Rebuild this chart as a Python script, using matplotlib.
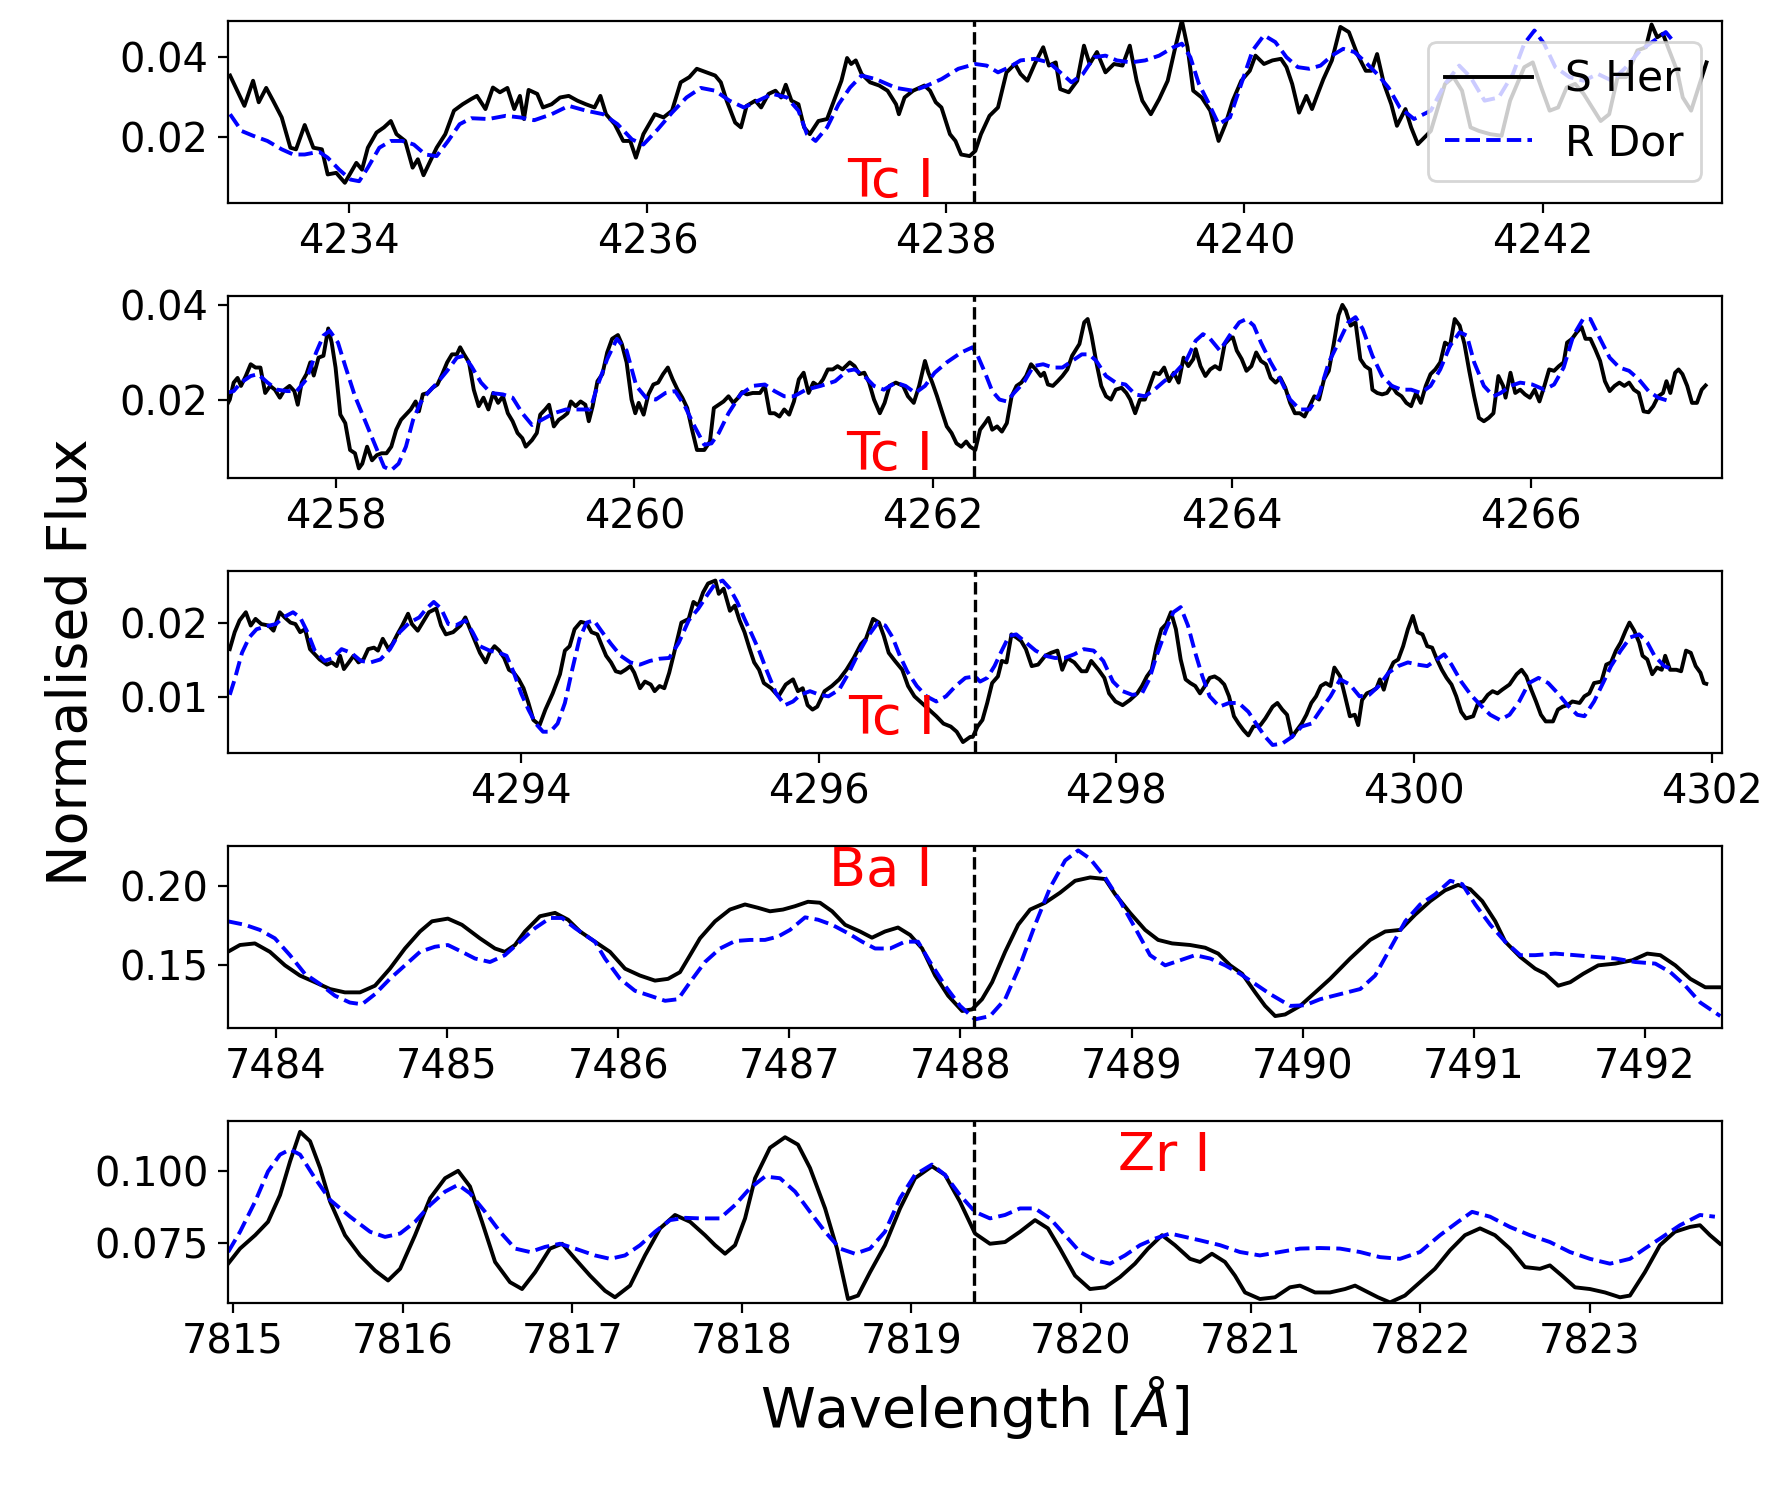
import matplotlib
matplotlib.use('Agg')
import matplotlib.pyplot as plt
import numpy as np

# line centres [A] and their labels
line_centres = [4238.19, 4262.27, 4297.05, 7488.08, 7819.37]
line_labels = ['Tc I', 'Tc I', 'Tc I', 'Ba I', 'Zr I']

# (wavelength, normalised flux)
sher_1 = np.array([
    (4233.204, 0.0354), (4233.300, 0.0278), (4233.358, 0.0341), (4233.396, 0.0287), (4233.446, 0.0323),
    (4233.492, 0.0291), (4233.550, 0.0249), (4233.608, 0.0173), (4233.646, 0.0169), (4233.704, 0.0230),
    (4233.762, 0.0173), (4233.819, 0.0169), (4233.858, 0.0106), (4233.915, 0.0110), (4233.973, 0.0085),
    (4234.050, 0.0135), (4234.088, 0.0118), (4234.127, 0.0173), (4234.185, 0.0211), (4234.235, 0.0224),
    (4234.281, 0.0240), (4234.319, 0.0207), (4234.377, 0.0190), (4234.427, 0.0123), (4234.462, 0.0144),
    (4234.500, 0.0104), (4234.588, 0.0173), (4234.646, 0.0207), (4234.704, 0.0266), (4234.762, 0.0282),
    (4234.819, 0.0295), (4234.858, 0.0303), (4234.915, 0.0270), (4234.965, 0.0324), (4235.012, 0.0312),
    (4235.062, 0.0323), (4235.108, 0.0270), (4235.146, 0.0303), (4235.173, 0.0245), (4235.204, 0.0318),
    (4235.262, 0.0308), (4235.300, 0.0274), (4235.358, 0.0282), (4235.415, 0.0299), (4235.473, 0.0303),
    (4235.531, 0.0291), (4235.588, 0.0282), (4235.646, 0.0274), (4235.685, 0.0303), (4235.723, 0.0257),
    (4235.781, 0.0232), (4235.838, 0.0190), (4235.885, 0.0190), (4235.923, 0.0148), (4235.973, 0.0207),
    (4236.050, 0.0257), (4236.108, 0.0249), (4236.165, 0.0266), (4236.223, 0.0337), (4236.281, 0.0350),
    (4236.331, 0.0371), (4236.396, 0.0362), (4236.454, 0.0354), (4236.492, 0.0337), (4236.531, 0.0291),
    (4236.588, 0.0236), (4236.627, 0.0224), (4236.665, 0.0278), (4236.723, 0.0291), (4236.762, 0.0274),
    (4236.812, 0.0308), (4236.858, 0.0316), (4236.896, 0.0299), (4236.927, 0.0331), (4236.965, 0.0291),
    (4237.012, 0.0282), (4237.050, 0.0224), (4237.088, 0.0207), (4237.146, 0.0240), (4237.204, 0.0245),
    (4237.262, 0.0303), (4237.300, 0.0341), (4237.338, 0.0398), (4237.365, 0.0383), (4237.396, 0.0392),
    (4237.435, 0.0358), (4237.492, 0.0337), (4237.553, 0.0329), (4237.609, 0.0316), (4237.666, 0.0282),
    (4237.685, 0.0257), (4237.723, 0.0299), (4237.780, 0.0316), (4237.856, 0.0329), (4237.894, 0.0316),
    (4237.932, 0.0287), (4237.970, 0.0274), (4238.027, 0.0207), (4238.064, 0.0190), (4238.102, 0.0156),
    (4238.159, 0.0152), (4238.197, 0.0165), (4238.235, 0.0207), (4238.292, 0.0253), (4238.349, 0.0274),
    (4238.406, 0.0362), (4238.463, 0.0383), (4238.500, 0.0358), (4238.546, 0.0341), (4238.595, 0.0383),
    (4238.652, 0.0425), (4238.690, 0.0379), (4238.736, 0.0387), (4238.766, 0.0320), (4238.823, 0.0312),
    (4238.880, 0.0341), (4238.925, 0.0429), (4238.963, 0.0383), (4239.012, 0.0413), (4239.069, 0.0362),
    (4239.126, 0.0383), (4239.183, 0.0379), (4239.232, 0.0429), (4239.278, 0.0341), (4239.316, 0.0291),
    (4239.373, 0.0257), (4239.429, 0.0295), (4239.486, 0.0341), (4239.532, 0.0417), (4239.581, 0.0492),
    (4239.619, 0.0425), (4239.657, 0.0316), (4239.714, 0.0299), (4239.771, 0.0266), (4239.827, 0.0190),
    (4239.873, 0.0232), (4239.922, 0.0291), (4239.979, 0.0341), (4240.036, 0.0366), (4240.074, 0.0404),
    (4240.131, 0.0383), (4240.188, 0.0392), (4240.245, 0.0396), (4240.282, 0.0375), (4240.320, 0.0333),
    (4240.366, 0.0261), (4240.415, 0.0303), (4240.453, 0.0270), (4240.491, 0.0308), (4240.529, 0.0345),
    (4240.586, 0.0392), (4240.643, 0.0476), (4240.700, 0.0463), (4240.756, 0.0408), (4240.813, 0.0366),
    (4240.851, 0.0366), (4240.889, 0.0408), (4240.935, 0.0333), (4240.984, 0.0282), (4241.022, 0.0228),
    (4241.079, 0.0270), (4241.117, 0.0224), (4241.162, 0.0182), (4241.249, 0.0215), (4241.344, 0.0333),
    (4241.401, 0.0350), (4241.458, 0.0316), (4241.515, 0.0224), (4241.572, 0.0215), (4241.647, 0.0207),
    (4241.723, 0.0203), (4241.780, 0.0291), (4241.875, 0.0375), (4241.932, 0.0387), (4241.989, 0.0324),
    (4242.045, 0.0266), (4242.102, 0.0274), (4242.159, 0.0324), (4242.216, 0.0333), (4242.273, 0.0308),
    (4242.330, 0.0274), (4242.387, 0.0240), (4242.444, 0.0257), (4242.500, 0.0350), (4242.557, 0.0350),
    (4242.633, 0.0417), (4242.690, 0.0425), (4242.728, 0.0482), (4242.766, 0.0450), (4242.804, 0.0459),
    (4242.842, 0.0421), (4242.899, 0.0366), (4242.937, 0.0299), (4242.993, 0.0266), (4243.050, 0.0333),
    (4243.096, 0.0387)])

rdor_1 = np.array([
    (4233.204, 0.0257), (4233.281, 0.0215), (4233.358, 0.0203), (4233.454, 0.0190), (4233.550, 0.0169),
    (4233.627, 0.0156), (4233.704, 0.0156), (4233.800, 0.0163), (4233.858, 0.0148), (4233.935, 0.0118),
    (4234.012, 0.0093), (4234.069, 0.0089), (4234.127, 0.0123), (4234.204, 0.0173), (4234.281, 0.0190),
    (4234.358, 0.0190), (4234.435, 0.0181), (4234.512, 0.0156), (4234.588, 0.0152), (4234.665, 0.0190),
    (4234.742, 0.0232), (4234.819, 0.0247), (4234.935, 0.0245), (4235.050, 0.0253), (4235.146, 0.0249),
    (4235.242, 0.0242), (4235.358, 0.0257), (4235.473, 0.0278), (4235.588, 0.0266), (4235.704, 0.0257),
    (4235.800, 0.0232), (4235.896, 0.0194), (4235.973, 0.0181), (4236.069, 0.0219), (4236.165, 0.0261),
    (4236.262, 0.0299), (4236.358, 0.0323), (4236.454, 0.0316), (4236.550, 0.0291), (4236.646, 0.0274),
    (4236.742, 0.0291), (4236.838, 0.0308), (4236.935, 0.0299), (4237.012, 0.0266), (4237.069, 0.0207),
    (4237.127, 0.0190), (4237.204, 0.0224), (4237.281, 0.0282), (4237.358, 0.0324), (4237.435, 0.0354),
    (4237.531, 0.0345), (4237.666, 0.0323), (4237.780, 0.0316), (4237.856, 0.0326), (4237.970, 0.0345),
    (4238.083, 0.0371), (4238.197, 0.0383), (4238.273, 0.0379), (4238.349, 0.0362), (4238.425, 0.0375),
    (4238.500, 0.0392), (4238.595, 0.0396), (4238.690, 0.0387), (4238.766, 0.0362), (4238.842, 0.0337),
    (4238.918, 0.0358), (4238.993, 0.0400), (4239.069, 0.0404), (4239.145, 0.0392), (4239.240, 0.0387),
    (4239.335, 0.0392), (4239.429, 0.0404), (4239.524, 0.0425), (4239.581, 0.0434), (4239.638, 0.0400),
    (4239.695, 0.0333), (4239.752, 0.0291), (4239.827, 0.0232), (4239.903, 0.0249), (4239.979, 0.0333),
    (4240.055, 0.0417), (4240.131, 0.0455), (4240.207, 0.0438), (4240.282, 0.0400), (4240.358, 0.0375),
    (4240.434, 0.0371), (4240.510, 0.0379), (4240.586, 0.0404), (4240.662, 0.0421), (4240.737, 0.0413),
    (4240.813, 0.0387), (4240.889, 0.0358), (4240.965, 0.0324), (4241.041, 0.0274), (4241.136, 0.0245),
    (4241.249, 0.0266), (4241.344, 0.0333), (4241.439, 0.0379), (4241.515, 0.0350), (4241.609, 0.0291),
    (4241.704, 0.0299), (4241.799, 0.0358), (4241.875, 0.0434), (4241.943, 0.0467), (4242.008, 0.0434),
    (4242.083, 0.0375), (4242.178, 0.0350), (4242.273, 0.0341), (4242.368, 0.0358), (4242.463, 0.0341),
    (4242.557, 0.0375), (4242.652, 0.0417), (4242.747, 0.0442), (4242.823, 0.0463), (4242.887, 0.0434)])

sher_2 = np.array([
    (4257.269, 0.0186), (4257.292, 0.0200), (4257.318, 0.0236), (4257.344, 0.0246), (4257.367, 0.0229),
    (4257.399, 0.0250), (4257.432, 0.0275), (4257.464, 0.0268), (4257.497, 0.0268), (4257.529, 0.0214),
    (4257.562, 0.0229), (4257.594, 0.0221), (4257.627, 0.0204), (4257.659, 0.0221), (4257.692, 0.0229),
    (4257.724, 0.0218), (4257.747, 0.0189), (4257.773, 0.0236), (4257.805, 0.0254), (4257.831, 0.0279),
    (4257.854, 0.0251), (4257.886, 0.0289), (4257.919, 0.0293), (4257.951, 0.0351), (4257.974, 0.0321),
    (4258.000, 0.0268), (4258.032, 0.0168), (4258.065, 0.0150), (4258.097, 0.0093), (4258.130, 0.0086),
    (4258.156, 0.0054), (4258.179, 0.0064), (4258.211, 0.0100), (4258.244, 0.0071), (4258.276, 0.0082),
    (4258.308, 0.0086), (4258.341, 0.0086), (4258.373, 0.0100), (4258.406, 0.0136), (4258.438, 0.0157),
    (4258.471, 0.0168), (4258.503, 0.0179), (4258.536, 0.0196), (4258.558, 0.0175), (4258.584, 0.0211),
    (4258.617, 0.0214), (4258.649, 0.0225), (4258.682, 0.0232), (4258.714, 0.0254), (4258.747, 0.0279),
    (4258.779, 0.0296), (4258.812, 0.0296), (4258.834, 0.0311), (4258.860, 0.0296), (4258.893, 0.0279),
    (4258.925, 0.0221), (4258.958, 0.0186), (4258.990, 0.0204), (4259.023, 0.0179), (4259.055, 0.0214),
    (4259.088, 0.0193), (4259.120, 0.0207), (4259.153, 0.0171), (4259.185, 0.0154), (4259.218, 0.0129),
    (4259.250, 0.0118), (4259.273, 0.0100), (4259.315, 0.0114), (4259.347, 0.0129), (4259.370, 0.0168),
    (4259.403, 0.0179), (4259.429, 0.0189), (4259.461, 0.0143), (4259.494, 0.0157), (4259.526, 0.0164),
    (4259.552, 0.0171), (4259.575, 0.0196), (4259.607, 0.0186), (4259.640, 0.0196), (4259.672, 0.0189),
    (4259.695, 0.0154), (4259.721, 0.0186), (4259.753, 0.0239), (4259.786, 0.0254), (4259.818, 0.0300),
    (4259.851, 0.0329), (4259.890, 0.0337), (4259.916, 0.0318), (4259.948, 0.0279), (4259.981, 0.0200),
    (4260.006, 0.0171), (4260.029, 0.0193), (4260.062, 0.0168), (4260.094, 0.0211), (4260.127, 0.0232),
    (4260.159, 0.0236), (4260.192, 0.0254), (4260.224, 0.0268), (4260.256, 0.0243), (4260.289, 0.0221),
    (4260.321, 0.0204), (4260.354, 0.0182), (4260.386, 0.0136), (4260.419, 0.0093), (4260.468, 0.0093),
    (4260.506, 0.0111), (4260.532, 0.0182), (4260.565, 0.0189), (4260.597, 0.0196), (4260.630, 0.0207),
    (4260.662, 0.0193), (4260.695, 0.0204), (4260.721, 0.0216), (4260.753, 0.0211), (4260.792, 0.0214),
    (4260.841, 0.0214), (4260.873, 0.0229), (4260.906, 0.0171), (4260.938, 0.0171), (4260.971, 0.0164),
    (4261.003, 0.0179), (4261.036, 0.0168), (4261.068, 0.0196), (4261.101, 0.0243), (4261.133, 0.0257),
    (4261.166, 0.0214), (4261.198, 0.0236), (4261.231, 0.0229), (4261.263, 0.0243), (4261.295, 0.0264),
    (4261.328, 0.0264), (4261.360, 0.0271), (4261.393, 0.0264), (4261.442, 0.0279), (4261.474, 0.0271),
    (4261.506, 0.0254), (4261.539, 0.0257), (4261.571, 0.0236), (4261.604, 0.0200), (4261.643, 0.0171),
    (4261.675, 0.0193), (4261.708, 0.0229), (4261.750, 0.0236), (4261.799, 0.0229), (4261.831, 0.0207),
    (4261.870, 0.0193), (4261.906, 0.0229), (4261.945, 0.0282), (4261.968, 0.0257), (4261.994, 0.0236),
    (4262.026, 0.0207), (4262.058, 0.0175), (4262.091, 0.0143), (4262.123, 0.0129), (4262.156, 0.0107),
    (4262.188, 0.0100), (4262.221, 0.0111), (4262.247, 0.0100), (4262.282, 0.0093), (4262.314, 0.0136),
    (4262.347, 0.0150), (4262.370, 0.0161), (4262.395, 0.0136), (4262.428, 0.0143), (4262.460, 0.0132),
    (4262.493, 0.0150), (4262.525, 0.0207), (4262.558, 0.0229), (4262.590, 0.0236), (4262.622, 0.0250),
    (4262.655, 0.0275), (4262.687, 0.0264), (4262.720, 0.0250), (4262.742, 0.0257), (4262.768, 0.0232),
    (4262.801, 0.0229), (4262.833, 0.0239), (4262.865, 0.0250), (4262.898, 0.0264), (4262.930, 0.0293),
    (4262.979, 0.0318), (4263.011, 0.0364), (4263.034, 0.0371), (4263.060, 0.0336), (4263.092, 0.0279),
    (4263.125, 0.0229), (4263.157, 0.0207), (4263.190, 0.0200), (4263.222, 0.0221), (4263.261, 0.0225),
    (4263.293, 0.0214), (4263.319, 0.0200), (4263.352, 0.0171), (4263.384, 0.0200), (4263.417, 0.0200),
    (4263.449, 0.0229), (4263.481, 0.0257), (4263.514, 0.0254), (4263.546, 0.0268), (4263.579, 0.0239),
    (4263.611, 0.0257), (4263.643, 0.0236), (4263.676, 0.0289), (4263.708, 0.0271), (4263.741, 0.0286),
    (4263.757, 0.0307), (4263.789, 0.0271), (4263.822, 0.0250), (4263.854, 0.0264), (4263.887, 0.0271),
    (4263.919, 0.0264), (4263.951, 0.0318), (4263.984, 0.0329), (4264.006, 0.0332), (4264.032, 0.0304),
    (4264.065, 0.0286), (4264.097, 0.0261), (4264.130, 0.0271), (4264.162, 0.0300), (4264.194, 0.0282),
    (4264.227, 0.0275), (4264.259, 0.0246), (4264.292, 0.0236), (4264.324, 0.0246), (4264.357, 0.0225),
    (4264.389, 0.0193), (4264.421, 0.0171), (4264.454, 0.0171), (4264.486, 0.0164), (4264.519, 0.0186),
    (4264.551, 0.0207), (4264.583, 0.0200), (4264.616, 0.0243), (4264.648, 0.0261), (4264.681, 0.0318),
    (4264.713, 0.0379), (4264.739, 0.0401), (4264.762, 0.0389), (4264.794, 0.0357), (4264.827, 0.0364),
    (4264.859, 0.0286), (4264.891, 0.0271), (4264.924, 0.0264), (4264.940, 0.0221), (4264.972, 0.0214),
    (4265.005, 0.0211), (4265.037, 0.0214), (4265.070, 0.0229), (4265.102, 0.0214), (4265.135, 0.0207),
    (4265.167, 0.0193), (4265.199, 0.0186), (4265.232, 0.0214), (4265.264, 0.0193), (4265.297, 0.0229),
    (4265.329, 0.0254), (4265.361, 0.0264), (4265.394, 0.0279), (4265.426, 0.0321), (4265.459, 0.0314),
    (4265.491, 0.0371), (4265.524, 0.0357), (4265.556, 0.0318), (4265.588, 0.0261), (4265.621, 0.0207),
    (4265.653, 0.0161), (4265.686, 0.0154), (4265.718, 0.0161), (4265.750, 0.0171), (4265.783, 0.0250),
    (4265.815, 0.0229), (4265.831, 0.0204), (4265.864, 0.0257), (4265.896, 0.0214), (4265.929, 0.0221),
    (4265.961, 0.0211), (4265.994, 0.0204), (4266.026, 0.0221), (4266.058, 0.0196), (4266.091, 0.0229),
    (4266.123, 0.0264), (4266.156, 0.0261), (4266.188, 0.0271), (4266.220, 0.0279), (4266.243, 0.0321),
    (4266.276, 0.0329), (4266.308, 0.0343), (4266.340, 0.0354), (4266.366, 0.0329), (4266.399, 0.0329),
    (4266.431, 0.0307), (4266.464, 0.0282), (4266.496, 0.0239), (4266.528, 0.0218), (4266.561, 0.0229),
    (4266.593, 0.0236), (4266.626, 0.0229), (4266.658, 0.0236), (4266.690, 0.0221), (4266.723, 0.0214),
    (4266.755, 0.0175), (4266.788, 0.0173), (4266.820, 0.0186), (4266.853, 0.0207), (4266.885, 0.0214),
    (4266.908, 0.0239), (4266.934, 0.0214), (4266.966, 0.0257), (4266.989, 0.0264), (4267.015, 0.0254),
    (4267.047, 0.0229), (4267.079, 0.0193), (4267.112, 0.0193), (4267.144, 0.0221), (4267.170, 0.0230)])

rdor_2 = np.array([
    (4257.269, 0.0214), (4257.318, 0.0218), (4257.367, 0.0236), (4257.432, 0.0250), (4257.481, 0.0254),
    (4257.545, 0.0236), (4257.610, 0.0221), (4257.675, 0.0218), (4257.740, 0.0218), (4257.805, 0.0243),
    (4257.870, 0.0300), (4257.919, 0.0336), (4257.961, 0.0346), (4258.016, 0.0321), (4258.065, 0.0271),
    (4258.130, 0.0207), (4258.195, 0.0157), (4258.260, 0.0107), (4258.325, 0.0057), (4258.373, 0.0050),
    (4258.422, 0.0064), (4258.471, 0.0100), (4258.519, 0.0157), (4258.568, 0.0193), (4258.617, 0.0214),
    (4258.682, 0.0236), (4258.747, 0.0261), (4258.812, 0.0289), (4258.860, 0.0293), (4258.909, 0.0271),
    (4258.974, 0.0236), (4259.039, 0.0214), (4259.120, 0.0211), (4259.185, 0.0204), (4259.250, 0.0171),
    (4259.315, 0.0146), (4259.380, 0.0157), (4259.461, 0.0171), (4259.542, 0.0179), (4259.623, 0.0179),
    (4259.705, 0.0179), (4259.753, 0.0229), (4259.818, 0.0286), (4259.883, 0.0329), (4259.948, 0.0304),
    (4260.013, 0.0229), (4260.078, 0.0204), (4260.143, 0.0200), (4260.208, 0.0214), (4260.273, 0.0218),
    (4260.338, 0.0186), (4260.403, 0.0143), (4260.468, 0.0104), (4260.516, 0.0107), (4260.565, 0.0129),
    (4260.630, 0.0171), (4260.711, 0.0211), (4260.792, 0.0229), (4260.873, 0.0232), (4260.938, 0.0218),
    (4261.003, 0.0207), (4261.068, 0.0207), (4261.149, 0.0221), (4261.247, 0.0229), (4261.344, 0.0239),
    (4261.425, 0.0261), (4261.474, 0.0264), (4261.539, 0.0250), (4261.604, 0.0229), (4261.669, 0.0221),
    (4261.750, 0.0236), (4261.815, 0.0229), (4261.880, 0.0214), (4261.945, 0.0229), (4262.010, 0.0257),
    (4262.091, 0.0279), (4262.188, 0.0300), (4262.263, 0.0311), (4262.298, 0.0293), (4262.347, 0.0257),
    (4262.395, 0.0218), (4262.444, 0.0200), (4262.493, 0.0196), (4262.541, 0.0214), (4262.606, 0.0236),
    (4262.671, 0.0271), (4262.736, 0.0275), (4262.801, 0.0268), (4262.865, 0.0268), (4262.930, 0.0282),
    (4262.995, 0.0296), (4263.044, 0.0296), (4263.092, 0.0282), (4263.157, 0.0250), (4263.222, 0.0236),
    (4263.287, 0.0232), (4263.352, 0.0211), (4263.417, 0.0207), (4263.481, 0.0221), (4263.546, 0.0239),
    (4263.611, 0.0254), (4263.692, 0.0282), (4263.757, 0.0325), (4263.806, 0.0339), (4263.854, 0.0329),
    (4263.919, 0.0304), (4263.984, 0.0336), (4264.049, 0.0364), (4264.097, 0.0371), (4264.146, 0.0357),
    (4264.194, 0.0321), (4264.259, 0.0279), (4264.324, 0.0243), (4264.389, 0.0200), (4264.454, 0.0179),
    (4264.519, 0.0179), (4264.583, 0.0211), (4264.648, 0.0279), (4264.713, 0.0321), (4264.778, 0.0364),
    (4264.827, 0.0375), (4264.875, 0.0350), (4264.940, 0.0293), (4265.005, 0.0250), (4265.070, 0.0229),
    (4265.135, 0.0221), (4265.199, 0.0221), (4265.264, 0.0214), (4265.329, 0.0229), (4265.394, 0.0264),
    (4265.459, 0.0314), (4265.524, 0.0343), (4265.572, 0.0336), (4265.621, 0.0279), (4265.686, 0.0229),
    (4265.750, 0.0207), (4265.799, 0.0214), (4265.864, 0.0229), (4265.929, 0.0236), (4266.010, 0.0232),
    (4266.091, 0.0221), (4266.156, 0.0232), (4266.220, 0.0268), (4266.285, 0.0336), (4266.350, 0.0371),
    (4266.399, 0.0371), (4266.464, 0.0329), (4266.528, 0.0289), (4266.593, 0.0268), (4266.658, 0.0261),
    (4266.723, 0.0243), (4266.788, 0.0218), (4266.853, 0.0204), (4266.934, 0.0196)])

sher_3 = np.array([
    (4292.042, 0.0165), (4292.075, 0.0188), (4292.108, 0.0204), (4292.150, 0.0215), (4292.183, 0.0197),
    (4292.215, 0.0206), (4292.254, 0.0199), (4292.303, 0.0197), (4292.336, 0.0190), (4292.378, 0.0215),
    (4292.411, 0.0208), (4292.450, 0.0201), (4292.483, 0.0199), (4292.515, 0.0188), (4292.548, 0.0192),
    (4292.581, 0.0165), (4292.613, 0.0158), (4292.646, 0.0151), (4292.695, 0.0144), (4292.728, 0.0147),
    (4292.760, 0.0142), (4292.783, 0.0156), (4292.809, 0.0138), (4292.842, 0.0147), (4292.874, 0.0156),
    (4292.907, 0.0147), (4292.940, 0.0151), (4292.972, 0.0165), (4293.011, 0.0167), (4293.038, 0.0163),
    (4293.070, 0.0179), (4293.109, 0.0165), (4293.135, 0.0172), (4293.168, 0.0185), (4293.201, 0.0197),
    (4293.240, 0.0213), (4293.266, 0.0199), (4293.305, 0.0190), (4293.338, 0.0201), (4293.380, 0.0215),
    (4293.429, 0.0220), (4293.462, 0.0197), (4293.494, 0.0185), (4293.543, 0.0188), (4293.592, 0.0197),
    (4293.625, 0.0208), (4293.657, 0.0192), (4293.690, 0.0176), (4293.723, 0.0160), (4293.762, 0.0147),
    (4293.788, 0.0160), (4293.821, 0.0169), (4293.853, 0.0163), (4293.886, 0.0153), (4293.918, 0.0137),
    (4293.951, 0.0133), (4293.984, 0.0124), (4294.016, 0.0112), (4294.049, 0.0092), (4294.082, 0.0069),
    (4294.124, 0.0062), (4294.163, 0.0083), (4294.212, 0.0105), (4294.261, 0.0131), (4294.294, 0.0163),
    (4294.326, 0.0169), (4294.359, 0.0192), (4294.401, 0.0202), (4294.440, 0.0200), (4294.473, 0.0188),
    (4294.512, 0.0185), (4294.538, 0.0172), (4294.571, 0.0156), (4294.604, 0.0147), (4294.636, 0.0135),
    (4294.669, 0.0133), (4294.701, 0.0137), (4294.734, 0.0142), (4294.760, 0.0133), (4294.799, 0.0112),
    (4294.832, 0.0121), (4294.871, 0.0117), (4294.897, 0.0108), (4294.930, 0.0115), (4294.962, 0.0112),
    (4294.995, 0.0133), (4295.028, 0.0160), (4295.077, 0.0201), (4295.126, 0.0206), (4295.158, 0.0229),
    (4295.191, 0.0224), (4295.223, 0.0242), (4295.256, 0.0254), (4295.305, 0.0258), (4295.328, 0.0240),
    (4295.361, 0.0247), (4295.403, 0.0217), (4295.436, 0.0224), (4295.468, 0.0204), (4295.501, 0.0188),
    (4295.533, 0.0167), (4295.566, 0.0147), (4295.599, 0.0137), (4295.631, 0.0119), (4295.680, 0.0112),
    (4295.729, 0.0101), (4295.778, 0.0117), (4295.827, 0.0124), (4295.860, 0.0108), (4295.892, 0.0112),
    (4295.925, 0.0089), (4295.958, 0.0083), (4295.990, 0.0087), (4296.039, 0.0108), (4296.088, 0.0115),
    (4296.137, 0.0124), (4296.186, 0.0137), (4296.235, 0.0153), (4296.284, 0.0172), (4296.317, 0.0179),
    (4296.365, 0.0206), (4296.405, 0.0201), (4296.437, 0.0183), (4296.470, 0.0160), (4296.512, 0.0149),
    (4296.561, 0.0137), (4296.600, 0.0115), (4296.643, 0.0101), (4296.692, 0.0092), (4296.741, 0.0083),
    (4296.790, 0.0074), (4296.838, 0.0064), (4296.887, 0.0060), (4296.927, 0.0053), (4296.969, 0.0039),
    (4297.018, 0.0046), (4297.035, 0.0046), (4297.067, 0.0060), (4297.100, 0.0069), (4297.132, 0.0092),
    (4297.165, 0.0119), (4297.204, 0.0128), (4297.230, 0.0149), (4297.262, 0.0147), (4297.295, 0.0185),
    (4297.327, 0.0181), (4297.360, 0.0176), (4297.392, 0.0165), (4297.431, 0.0142), (4297.474, 0.0144),
    (4297.522, 0.0156), (4297.561, 0.0160), (4297.604, 0.0163), (4297.636, 0.0137), (4297.669, 0.0153),
    (4297.717, 0.0147), (4297.766, 0.0135), (4297.799, 0.0135), (4297.831, 0.0149), (4297.880, 0.0137),
    (4297.919, 0.0126), (4297.951, 0.0105), (4297.994, 0.0094), (4298.042, 0.0089), (4298.091, 0.0096),
    (4298.140, 0.0105), (4298.172, 0.0115), (4298.205, 0.0128), (4298.237, 0.0137), (4298.270, 0.0169),
    (4298.302, 0.0192), (4298.335, 0.0199), (4298.367, 0.0215), (4298.400, 0.0192), (4298.432, 0.0151),
    (4298.465, 0.0124), (4298.497, 0.0119), (4298.530, 0.0115), (4298.562, 0.0105), (4298.595, 0.0115),
    (4298.627, 0.0126), (4298.660, 0.0128), (4298.692, 0.0124), (4298.725, 0.0117), (4298.757, 0.0101),
    (4298.790, 0.0074), (4298.822, 0.0064), (4298.855, 0.0055), (4298.887, 0.0048), (4298.920, 0.0060),
    (4298.968, 0.0062), (4299.001, 0.0071), (4299.050, 0.0087), (4299.082, 0.0092), (4299.115, 0.0083),
    (4299.147, 0.0076), (4299.180, 0.0046), (4299.212, 0.0055), (4299.245, 0.0064), (4299.277, 0.0076),
    (4299.310, 0.0092), (4299.342, 0.0101), (4299.374, 0.0115), (4299.407, 0.0119), (4299.439, 0.0115),
    (4299.465, 0.0140), (4299.504, 0.0128), (4299.537, 0.0101), (4299.569, 0.0074), (4299.602, 0.0076),
    (4299.625, 0.0062), (4299.651, 0.0096), (4299.683, 0.0105), (4299.716, 0.0108), (4299.748, 0.0112),
    (4299.771, 0.0124), (4299.797, 0.0110), (4299.829, 0.0133), (4299.862, 0.0147), (4299.894, 0.0151),
    (4299.927, 0.0169), (4299.959, 0.0192), (4299.992, 0.0210), (4300.024, 0.0188), (4300.057, 0.0185),
    (4300.089, 0.0169), (4300.122, 0.0167), (4300.154, 0.0151), (4300.187, 0.0137), (4300.219, 0.0126),
    (4300.252, 0.0117), (4300.284, 0.0101), (4300.317, 0.0080), (4300.349, 0.0071), (4300.398, 0.0074),
    (4300.431, 0.0092), (4300.463, 0.0094), (4300.496, 0.0103), (4300.528, 0.0108), (4300.561, 0.0105),
    (4300.593, 0.0110), (4300.642, 0.0117), (4300.690, 0.0131), (4300.723, 0.0137), (4300.755, 0.0128),
    (4300.788, 0.0110), (4300.820, 0.0094), (4300.853, 0.0076), (4300.885, 0.0067), (4300.934, 0.0067),
    (4300.967, 0.0083), (4300.999, 0.0087), (4301.032, 0.0089), (4301.064, 0.0094), (4301.113, 0.0092),
    (4301.145, 0.0101), (4301.178, 0.0105), (4301.210, 0.0119), (4301.259, 0.0121), (4301.292, 0.0144),
    (4301.324, 0.0147), (4301.357, 0.0163), (4301.389, 0.0174), (4301.422, 0.0190), (4301.448, 0.0201),
    (4301.480, 0.0190), (4301.513, 0.0174), (4301.536, 0.0156), (4301.568, 0.0151), (4301.601, 0.0131),
    (4301.633, 0.0140), (4301.665, 0.0137), (4301.688, 0.0156), (4301.721, 0.0137), (4301.763, 0.0137),
    (4301.795, 0.0135), (4301.828, 0.0163), (4301.860, 0.0160), (4301.893, 0.0142), (4301.925, 0.0133),
    (4301.948, 0.0119), (4301.964, 0.0118)])

rdor_3 = np.array([
    (4292.042, 0.0103), (4292.075, 0.0124), (4292.124, 0.0160), (4292.173, 0.0181), (4292.222, 0.0192),
    (4292.287, 0.0196), (4292.352, 0.0199), (4292.401, 0.0208), (4292.467, 0.0215), (4292.515, 0.0208),
    (4292.564, 0.0188), (4292.613, 0.0163), (4292.679, 0.0149), (4292.737, 0.0153), (4292.793, 0.0165),
    (4292.858, 0.0160), (4292.923, 0.0149), (4292.989, 0.0147), (4293.054, 0.0151), (4293.119, 0.0165),
    (4293.184, 0.0188), (4293.250, 0.0201), (4293.315, 0.0208), (4293.364, 0.0220), (4293.413, 0.0229),
    (4293.462, 0.0220), (4293.511, 0.0199), (4293.560, 0.0197), (4293.625, 0.0204), (4293.674, 0.0188),
    (4293.723, 0.0169), (4293.788, 0.0163), (4293.853, 0.0160), (4293.902, 0.0156), (4293.951, 0.0133),
    (4294.000, 0.0105), (4294.049, 0.0083), (4294.098, 0.0064), (4294.147, 0.0053), (4294.196, 0.0053),
    (4294.245, 0.0064), (4294.294, 0.0092), (4294.343, 0.0137), (4294.392, 0.0179), (4294.440, 0.0201),
    (4294.489, 0.0204), (4294.538, 0.0190), (4294.604, 0.0172), (4294.669, 0.0156), (4294.734, 0.0147),
    (4294.799, 0.0144), (4294.865, 0.0149), (4294.930, 0.0152), (4294.995, 0.0153), (4295.060, 0.0174),
    (4295.126, 0.0204), (4295.191, 0.0220), (4295.256, 0.0240), (4295.305, 0.0254), (4295.354, 0.0258),
    (4295.403, 0.0247), (4295.452, 0.0229), (4295.501, 0.0206), (4295.550, 0.0185), (4295.599, 0.0163),
    (4295.648, 0.0137), (4295.713, 0.0105), (4295.772, 0.0089), (4295.827, 0.0094), (4295.876, 0.0103),
    (4295.941, 0.0108), (4296.007, 0.0103), (4296.065, 0.0101), (4296.137, 0.0110), (4296.202, 0.0133),
    (4296.268, 0.0160), (4296.333, 0.0183), (4296.398, 0.0201), (4296.447, 0.0197), (4296.496, 0.0181),
    (4296.545, 0.0156), (4296.594, 0.0135), (4296.659, 0.0115), (4296.724, 0.0101), (4296.790, 0.0094),
    (4296.855, 0.0101), (4296.920, 0.0115), (4296.985, 0.0126), (4297.051, 0.0128), (4297.084, 0.0121),
    (4297.132, 0.0126), (4297.181, 0.0142), (4297.230, 0.0163), (4297.279, 0.0183), (4297.327, 0.0185),
    (4297.392, 0.0174), (4297.457, 0.0163), (4297.522, 0.0156), (4297.587, 0.0153), (4297.652, 0.0153),
    (4297.717, 0.0158), (4297.782, 0.0165), (4297.847, 0.0163), (4297.912, 0.0149), (4297.977, 0.0121),
    (4298.042, 0.0108), (4298.107, 0.0103), (4298.172, 0.0105), (4298.221, 0.0124), (4298.270, 0.0156),
    (4298.335, 0.0192), (4298.383, 0.0215), (4298.432, 0.0222), (4298.481, 0.0197), (4298.530, 0.0160),
    (4298.578, 0.0128), (4298.627, 0.0101), (4298.692, 0.0087), (4298.757, 0.0092), (4298.822, 0.0092),
    (4298.887, 0.0080), (4298.952, 0.0060), (4299.001, 0.0046), (4299.050, 0.0035), (4299.115, 0.0037),
    (4299.180, 0.0046), (4299.245, 0.0060), (4299.310, 0.0064), (4299.374, 0.0083), (4299.439, 0.0101),
    (4299.504, 0.0124), (4299.569, 0.0117), (4299.634, 0.0101), (4299.699, 0.0103), (4299.764, 0.0115),
    (4299.829, 0.0133), (4299.894, 0.0142), (4299.959, 0.0147), (4300.024, 0.0144), (4300.089, 0.0142),
    (4300.154, 0.0151), (4300.203, 0.0158), (4300.252, 0.0144), (4300.317, 0.0121), (4300.382, 0.0103),
    (4300.447, 0.0089), (4300.512, 0.0076), (4300.577, 0.0069), (4300.642, 0.0076), (4300.707, 0.0094),
    (4300.772, 0.0119), (4300.837, 0.0126), (4300.902, 0.0119), (4300.967, 0.0105), (4301.032, 0.0089),
    (4301.097, 0.0076), (4301.145, 0.0074), (4301.210, 0.0094), (4301.275, 0.0121), (4301.324, 0.0142),
    (4301.389, 0.0163), (4301.454, 0.0181), (4301.513, 0.0185), (4301.568, 0.0174), (4301.616, 0.0156),
    (4301.681, 0.0142), (4301.746, 0.0137)])

sher_4 = np.array([
    (7483.719, 0.1585), (7483.790, 0.1628), (7483.877, 0.1638), (7483.965, 0.1585), (7484.053, 0.1500),
    (7484.140, 0.1436), (7484.228, 0.1394), (7484.316, 0.1351), (7484.403, 0.1330), (7484.491, 0.1330),
    (7484.579, 0.1372), (7484.666, 0.1479), (7484.754, 0.1606), (7484.842, 0.1713), (7484.912, 0.1777),
    (7485.005, 0.1794), (7485.087, 0.1755), (7485.192, 0.1670), (7485.280, 0.1606), (7485.338, 0.1585),
    (7485.397, 0.1628), (7485.455, 0.1713), (7485.543, 0.1809), (7485.631, 0.1830), (7485.707, 0.1787),
    (7485.777, 0.1713), (7485.864, 0.1649), (7485.952, 0.1585), (7486.040, 0.1479), (7486.127, 0.1436),
    (7486.215, 0.1404), (7486.291, 0.1415), (7486.361, 0.1457), (7486.420, 0.1564), (7486.478, 0.1670),
    (7486.566, 0.1777), (7486.653, 0.1851), (7486.741, 0.1883), (7486.817, 0.1862), (7486.887, 0.1840),
    (7486.963, 0.1851), (7487.033, 0.1872), (7487.109, 0.1900), (7487.179, 0.1894), (7487.250, 0.1840),
    (7487.326, 0.1755), (7487.413, 0.1713), (7487.483, 0.1674), (7487.559, 0.1713), (7487.635, 0.1738),
    (7487.706, 0.1691), (7487.776, 0.1606), (7487.852, 0.1436), (7487.928, 0.1309), (7488.010, 0.1213),
    (7488.068, 0.1223), (7488.126, 0.1287), (7488.185, 0.1394), (7488.261, 0.1585), (7488.337, 0.1755),
    (7488.407, 0.1851), (7488.495, 0.1894), (7488.582, 0.1957), (7488.670, 0.2032), (7488.758, 0.2053),
    (7488.845, 0.2043), (7488.904, 0.1947), (7488.991, 0.1830), (7489.079, 0.1723), (7489.155, 0.1660),
    (7489.237, 0.1638), (7489.342, 0.1628), (7489.430, 0.1611), (7489.506, 0.1574), (7489.576, 0.1500),
    (7489.646, 0.1447), (7489.722, 0.1330), (7489.780, 0.1245), (7489.839, 0.1181), (7489.897, 0.1191),
    (7489.985, 0.1245), (7490.073, 0.1330), (7490.160, 0.1415), (7490.277, 0.1543), (7490.394, 0.1660),
    (7490.482, 0.1713), (7490.570, 0.1723), (7490.657, 0.1819), (7490.745, 0.1904), (7490.832, 0.1972),
    (7490.908, 0.2006), (7490.979, 0.1979), (7491.049, 0.1904), (7491.125, 0.1777), (7491.183, 0.1649),
    (7491.271, 0.1553), (7491.358, 0.1479), (7491.417, 0.1447), (7491.493, 0.1372), (7491.563, 0.1394),
    (7491.639, 0.1447), (7491.727, 0.1500), (7491.826, 0.1511), (7491.926, 0.1532), (7492.013, 0.1574),
    (7492.089, 0.1564), (7492.177, 0.1500), (7492.265, 0.1415), (7492.352, 0.1362), (7492.440, 0.1362)])

rdor_4 = np.array([
    (7483.719, 0.1777), (7483.819, 0.1755), (7483.906, 0.1723), (7483.994, 0.1670), (7484.082, 0.1564),
    (7484.169, 0.1447), (7484.257, 0.1383), (7484.345, 0.1309), (7484.432, 0.1266), (7484.503, 0.1255),
    (7484.579, 0.1319), (7484.666, 0.1415), (7484.754, 0.1500), (7484.842, 0.1585), (7484.929, 0.1617),
    (7485.005, 0.1628), (7485.087, 0.1585), (7485.163, 0.1543), (7485.251, 0.1521), (7485.338, 0.1564),
    (7485.426, 0.1649), (7485.514, 0.1734), (7485.602, 0.1798), (7485.672, 0.1798), (7485.748, 0.1734),
    (7485.864, 0.1649), (7485.923, 0.1543), (7486.011, 0.1415), (7486.098, 0.1340), (7486.186, 0.1309),
    (7486.274, 0.1277), (7486.350, 0.1287), (7486.420, 0.1394), (7486.507, 0.1521), (7486.595, 0.1606),
    (7486.683, 0.1653), (7486.771, 0.1660), (7486.858, 0.1660), (7486.934, 0.1681), (7487.004, 0.1723),
    (7487.092, 0.1802), (7487.168, 0.1787), (7487.250, 0.1755), (7487.343, 0.1702), (7487.425, 0.1649),
    (7487.501, 0.1606), (7487.589, 0.1606), (7487.676, 0.1649), (7487.752, 0.1649), (7487.822, 0.1521),
    (7487.910, 0.1372), (7487.998, 0.1245), (7488.085, 0.1160), (7488.173, 0.1181), (7488.261, 0.1287),
    (7488.348, 0.1500), (7488.436, 0.1755), (7488.524, 0.1989), (7488.612, 0.2160), (7488.688, 0.2223),
    (7488.758, 0.2170), (7488.845, 0.2053), (7488.933, 0.1904), (7489.021, 0.1734), (7489.108, 0.1564),
    (7489.196, 0.1500), (7489.284, 0.1532), (7489.371, 0.1564), (7489.459, 0.1543), (7489.547, 0.1500),
    (7489.634, 0.1447), (7489.722, 0.1383), (7489.810, 0.1319), (7489.927, 0.1245), (7490.014, 0.1249),
    (7490.102, 0.1287), (7490.219, 0.1319), (7490.336, 0.1351), (7490.423, 0.1436), (7490.511, 0.1606),
    (7490.599, 0.1777), (7490.686, 0.1883), (7490.774, 0.1947), (7490.862, 0.2032), (7490.932, 0.2011),
    (7491.008, 0.1883), (7491.096, 0.1755), (7491.183, 0.1649), (7491.271, 0.1564), (7491.358, 0.1564),
    (7491.475, 0.1574), (7491.592, 0.1564), (7491.709, 0.1553), (7491.826, 0.1543), (7491.943, 0.1521),
    (7492.060, 0.1511), (7492.148, 0.1457), (7492.235, 0.1372), (7492.323, 0.1266), (7492.440, 0.1181)])

sher_5 = np.array([
    (7814.971, 0.0676), (7815.041, 0.0729), (7815.130, 0.0776), (7815.206, 0.0823), (7815.277, 0.0917),
    (7815.336, 0.1035), (7815.395, 0.1139), (7815.454, 0.1106), (7815.513, 0.1012), (7815.572, 0.0894),
    (7815.660, 0.0776), (7815.749, 0.0705), (7815.837, 0.0652), (7815.914, 0.0617), (7815.985, 0.0658),
    (7816.073, 0.0776), (7816.162, 0.0906), (7816.250, 0.0976), (7816.327, 0.1002), (7816.397, 0.0947),
    (7816.468, 0.0823), (7816.545, 0.0682), (7816.633, 0.0611), (7816.704, 0.0587), (7816.781, 0.0646),
    (7816.869, 0.0729), (7816.940, 0.0746), (7817.017, 0.0693), (7817.105, 0.0634), (7817.193, 0.0581),
    (7817.252, 0.0558), (7817.341, 0.0599), (7817.429, 0.0705), (7817.518, 0.0800), (7817.606, 0.0847),
    (7817.695, 0.0823), (7817.783, 0.0776), (7817.842, 0.0741), (7817.901, 0.0711), (7817.960, 0.0741),
    (7818.019, 0.0835), (7818.078, 0.0976), (7818.166, 0.1083), (7818.255, 0.1120), (7818.331, 0.1094),
    (7818.402, 0.1012), (7818.491, 0.0870), (7818.561, 0.0729), (7818.626, 0.0552), (7818.685, 0.0564),
    (7818.756, 0.0646), (7818.844, 0.0741), (7818.933, 0.0870), (7819.021, 0.0976), (7819.121, 0.1018),
    (7819.198, 0.0988), (7819.286, 0.0894), (7819.375, 0.0782), (7819.463, 0.0746), (7819.552, 0.0752),
    (7819.640, 0.0788), (7819.729, 0.0829), (7819.805, 0.0800), (7819.876, 0.0729), (7819.965, 0.0634),
    (7820.053, 0.0587), (7820.142, 0.0593), (7820.230, 0.0629), (7820.318, 0.0676), (7820.395, 0.0729),
    (7820.478, 0.0776), (7820.554, 0.0741), (7820.643, 0.0693), (7820.702, 0.0682), (7820.772, 0.0711),
    (7820.849, 0.0682), (7820.908, 0.0634), (7820.967, 0.0575), (7821.055, 0.0552), (7821.144, 0.0558),
    (7821.232, 0.0593), (7821.291, 0.0599), (7821.380, 0.0575), (7821.468, 0.0575), (7821.557, 0.0587),
    (7821.616, 0.0599), (7821.675, 0.0581), (7821.751, 0.0558), (7821.822, 0.0540), (7821.910, 0.0564),
    (7821.999, 0.0611), (7822.087, 0.0658), (7822.176, 0.0723), (7822.264, 0.0776), (7822.353, 0.0800),
    (7822.441, 0.0776), (7822.529, 0.0729), (7822.618, 0.0664), (7822.706, 0.0658), (7822.765, 0.0670),
    (7822.836, 0.0634), (7822.913, 0.0593), (7823.001, 0.0587), (7823.090, 0.0575), (7823.178, 0.0558),
    (7823.237, 0.0564), (7823.325, 0.0646), (7823.414, 0.0741), (7823.502, 0.0788), (7823.591, 0.0805),
    (7823.650, 0.0811), (7823.709, 0.0776), (7823.768, 0.0746)])

rdor_5 = np.array([
    (7814.971, 0.0717), (7815.041, 0.0788), (7815.130, 0.0894), (7815.206, 0.1000), (7815.277, 0.1059),
    (7815.336, 0.1077), (7815.395, 0.1059), (7815.483, 0.0976), (7815.572, 0.0900), (7815.690, 0.0841),
    (7815.808, 0.0788), (7815.896, 0.0770), (7815.985, 0.0782), (7816.073, 0.0823), (7816.162, 0.0882),
    (7816.250, 0.0929), (7816.327, 0.0953), (7816.397, 0.0923), (7816.486, 0.0858), (7816.574, 0.0788),
    (7816.663, 0.0729), (7816.751, 0.0717), (7816.840, 0.0735), (7816.928, 0.0746), (7817.017, 0.0729),
    (7817.134, 0.0705), (7817.223, 0.0693), (7817.311, 0.0705), (7817.400, 0.0741), (7817.488, 0.0788),
    (7817.577, 0.0829), (7817.665, 0.0837), (7817.754, 0.0835), (7817.871, 0.0835), (7817.960, 0.0882),
    (7818.048, 0.0941), (7818.137, 0.0982), (7818.225, 0.0976), (7818.314, 0.0929), (7818.402, 0.0858),
    (7818.491, 0.0788), (7818.579, 0.0729), (7818.667, 0.0711), (7818.756, 0.0729), (7818.844, 0.0788),
    (7818.933, 0.0906), (7819.021, 0.0988), (7819.121, 0.1024), (7819.198, 0.0988), (7819.286, 0.0917),
    (7819.375, 0.0858), (7819.463, 0.0835), (7819.552, 0.0847), (7819.640, 0.0870), (7819.729, 0.0870),
    (7819.817, 0.0835), (7819.906, 0.0776), (7819.994, 0.0717), (7820.083, 0.0688), (7820.171, 0.0676),
    (7820.259, 0.0705), (7820.348, 0.0741), (7820.436, 0.0764), (7820.525, 0.0782), (7820.613, 0.0770),
    (7820.702, 0.0758), (7820.820, 0.0741), (7820.937, 0.0717), (7821.055, 0.0705), (7821.173, 0.0717),
    (7821.291, 0.0729), (7821.409, 0.0731), (7821.527, 0.0729), (7821.645, 0.0717), (7821.763, 0.0699),
    (7821.881, 0.0693), (7821.999, 0.0717), (7822.117, 0.0776), (7822.223, 0.0823), (7822.306, 0.0858),
    (7822.412, 0.0841), (7822.529, 0.0805), (7822.647, 0.0776), (7822.765, 0.0752), (7822.883, 0.0717),
    (7823.001, 0.0693), (7823.119, 0.0676), (7823.237, 0.0693), (7823.325, 0.0729), (7823.414, 0.0764),
    (7823.532, 0.0811), (7823.650, 0.0847), (7823.738, 0.0841)])

sher_all = [sher_1, sher_2, sher_3, sher_4, sher_5]
rdor_all = [rdor_1, rdor_2, rdor_3, rdor_4, rdor_5]

x_ranges = [(4233.19, 4243.20), (4257.28, 4267.28), (4292.03, 4302.07),
            (7483.72, 7492.45), (7814.97, 7823.78)]
y_ranges = [(0.00345, 0.0491), (0.00336, 0.0420), (0.00242, 0.0271),
            (0.1106, 0.2251), (0.0538, 0.1177)]
x_tick_sets = [np.arange(4234, 4243, 2), np.arange(4258, 4267, 2), np.arange(4294, 4303, 2),
               np.arange(7484, 7493, 1), np.arange(7815, 7824, 1)]
y_tick_sets = [[0.02, 0.04], [0.02, 0.04], [0.01, 0.02], [0.15, 0.20], [0.075, 0.100]]
# label anchor: offset from line centre [A], flux of the baseline
label_anchor = [(-0.85, 0.005), (-0.85, 0.005), (-0.85, 0.005), (-0.85, 0.20), (0.85, 0.100)]

fig = plt.figure(figsize=(8.83, 7.53), dpi=200)
fig.subplots_adjust(left=0.1291, right=0.9751, top=0.9861, bottom=0.1348, hspace=0.511)

for i in range(5):
    ax = fig.add_subplot(5, 1, i + 1)
    s = sher_all[i]
    r = rdor_all[i]
    ax.plot(s[:, 0], s[:, 1], 'k-', lw=1.4, label='S Her')
    ax.plot(r[:, 0], r[:, 1], 'b--', lw=1.4, label='R Dor')
    ax.axvline(line_centres[i], color='k', ls='--', lw=1.2)
    dx, ytxt = label_anchor[i]
    ax.text(line_centres[i] + dx, ytxt, line_labels[i], color='r', fontsize=19.5)
    ax.set_xlim(x_ranges[i])
    ax.set_ylim(y_ranges[i])
    ax.set_xticks(x_tick_sets[i])
    ax.set_yticks(y_tick_sets[i])
    ax.ticklabel_format(useOffset=False)
    ax.tick_params(labelsize=14.4)
    if i == 0:
        ax.legend(loc='upper right', fontsize=15.2, handlelength=2.05)

fig.text(0.552, 0.0657, r'Wavelength [$\AA$]', ha='center', va='center', fontsize=20)
fig.text(0.0408, 0.5604, 'Normalised Flux', ha='center', va='center', rotation=90, fontsize=20)

plt.savefig('out.png', dpi=200)
